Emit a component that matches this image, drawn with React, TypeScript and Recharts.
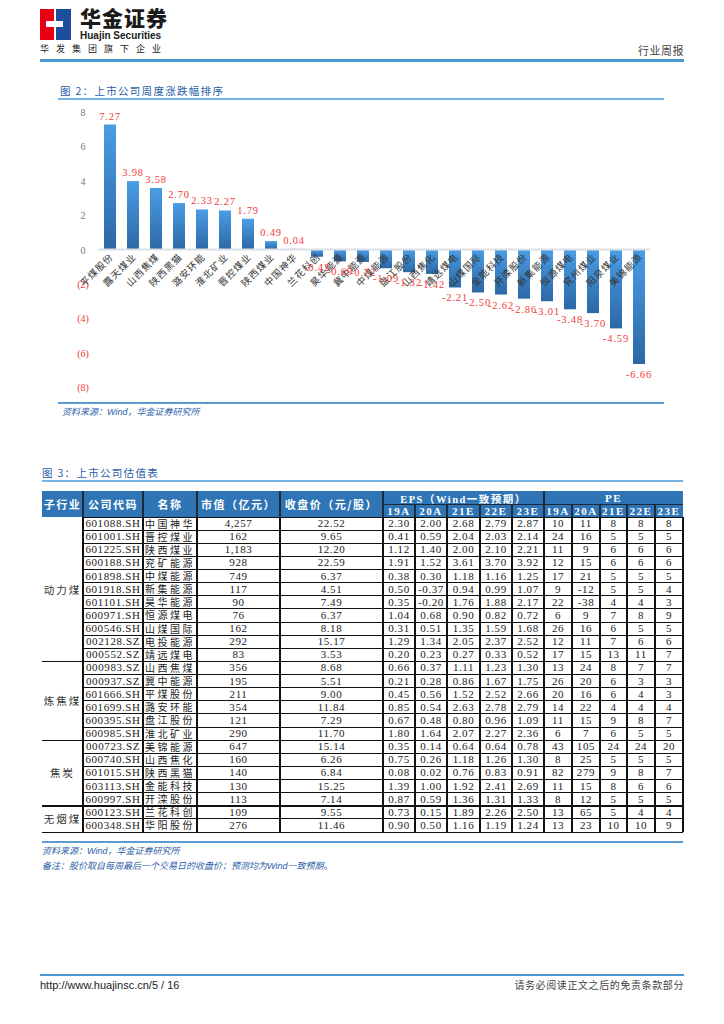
import React from 'react'
import { BarChart, Bar, XAxis, YAxis, ReferenceLine, LabelList } from 'recharts'

// 图2：上市公司周度涨跌幅排序 (%)
const barNames = [
  '平煤股份', '露天煤业', '山西焦煤', '陕西黑猫', '潞安环能', '淮北矿业', '晋控煤业', '陕西煤业',
  '中国神华', '兰花科创', '昊华能源', '冀中能源', '中煤能源', '盘江股份', '山西焦化', '靖远煤电',
  '山煤国际', '金能科技', '开滦股份', '新集能源', '恒源煤电', '兖州煤业', '阳泉煤业', '美锦能源',
]
const weeklyChange = [
  7.27, 3.98, 3.58, 2.7, 2.33, 2.27, 1.79, 0.49,
  0.04, -0.42, -0.69, -0.72, -1.09, -1.32, -1.42, -2.21,
  -2.5, -2.62, -2.86, -3.01, -3.48, -3.7, -4.59, -6.66,
]
const yTicks = [-8, -6, -4, -2, 0, 2, 4, 6, 8]

// 图3：上市公司估值表
const groups = ['动力煤', '炼焦煤', '焦炭', '无烟煤']
const groupSizes = [11, 6, 5, 2]
const codes = [
  '601088.SH', '601001.SH', '601225.SH', '600188.SH', '601898.SH', '601918.SH', '601101.SH', '600971.SH',
  '600546.SH', '002128.SZ', '000552.SZ', '000983.SZ', '000937.SZ', '601666.SH', '601699.SH', '600395.SH',
  '600985.SH', '000723.SZ', '600740.SH', '601015.SH', '603113.SH', '600997.SH', '600123.SH', '600348.SH',
]
const names = [
  '中国神华', '晋控煤业', '陕西煤业', '兖矿能源', '中煤能源', '新集能源', '昊华能源', '恒源煤电',
  '山煤国际', '电投能源', '靖远煤电', '山西焦煤', '冀中能源', '平煤股份', '潞安环能', '盘江股份',
  '淮北矿业', '美锦能源', '山西焦化', '陕西黑猫', '金能科技', '开滦股份', '兰花科创', '华阳股份',
]
const marketCap = [
  '4,257', '162', '1,183', '928', '749', '117', '90', '76', '162', '292', '83', '356',
  '195', '211', '354', '121', '290', '647', '160', '140', '130', '113', '109', '276',
]
const closePrice = [
  '22.52', '9.65', '12.20', '22.59', '6.37', '4.51', '7.49', '6.37', '8.18', '15.17', '3.53', '8.68',
  '5.51', '9.00', '11.84', '7.29', '11.70', '15.14', '6.26', '6.84', '15.25', '7.14', '9.55', '11.46',
]
const eps = [
  ['2.30', '2.00', '2.68', '2.79', '2.87'],
  ['0.41', '0.59', '2.04', '2.03', '2.14'],
  ['1.12', '1.40', '2.00', '2.10', '2.21'],
  ['1.91', '1.52', '3.61', '3.70', '3.92'],
  ['0.38', '0.30', '1.18', '1.16', '1.25'],
  ['0.50', '-0.37', '0.94', '0.99', '1.07'],
  ['0.35', '-0.20', '1.76', '1.88', '2.17'],
  ['1.04', '0.68', '0.90', '0.82', '0.72'],
  ['0.31', '0.51', '1.35', '1.59', '1.68'],
  ['1.29', '1.34', '2.05', '2.37', '2.52'],
  ['0.20', '0.23', '0.27', '0.33', '0.52'],
  ['0.66', '0.37', '1.11', '1.23', '1.30'],
  ['0.21', '0.28', '0.86', '1.67', '1.75'],
  ['0.45', '0.56', '1.52', '2.52', '2.66'],
  ['0.85', '0.54', '2.63', '2.78', '2.79'],
  ['0.67', '0.48', '0.80', '0.96', '1.09'],
  ['1.80', '1.64', '2.07', '2.27', '2.36'],
  ['0.35', '0.14', '0.64', '0.64', '0.78'],
  ['0.75', '0.26', '1.18', '1.26', '1.30'],
  ['0.08', '0.02', '0.76', '0.83', '0.91'],
  ['1.39', '1.00', '1.92', '2.41', '2.69'],
  ['0.87', '0.59', '1.36', '1.31', '1.33'],
  ['0.73', '0.15', '1.89', '2.26', '2.50'],
  ['0.90', '0.50', '1.16', '1.19', '1.24'],
]
const pe = [
  ['10', '11', '8', '8', '8'],
  ['24', '16', '5', '5', '5'],
  ['11', '9', '6', '6', '6'],
  ['12', '15', '6', '6', '6'],
  ['17', '21', '5', '5', '5'],
  ['9', '-12', '5', '5', '4'],
  ['22', '-38', '4', '4', '3'],
  ['6', '9', '7', '8', '9'],
  ['26', '16', '6', '5', '5'],
  ['12', '11', '7', '6', '6'],
  ['17', '15', '13', '11', '7'],
  ['13', '24', '8', '7', '7'],
  ['26', '20', '6', '3', '3'],
  ['20', '16', '6', '4', '3'],
  ['14', '22', '4', '4', '4'],
  ['11', '15', '9', '8', '7'],
  ['6', '7', '6', '5', '5'],
  ['43', '105', '24', '24', '20'],
  ['8', '25', '5', '5', '5'],
  ['82', '279', '9', '8', '7'],
  ['11', '15', '8', '6', '6'],
  ['8', '12', '5', '5', '5'],
  ['13', '65', '5', '4', '4'],
  ['13', '23', '10', '10', '9'],
]
const periods = ['19A', '20A', '21E', '22E', '23E']

const chartData = barNames.map((name, i) => ({ name, change: weeklyChange[i] }))

const CJK = '"Noto Sans CJK SC", sans-serif'
const SERIF = '"Liberation Serif", "Noto Sans CJK SC", serif'
const BLUE_LINE = '#4a98d2'
const RED = '#f23a3a'

const YTick = ({ x, y, payload }: any) => {
  const v = payload.value
  const neg = v < 0
  return (
    <text x={x - 7} y={y + 4} textAnchor="middle" fill={neg ? RED : '#777'} fontSize={10} fontFamily={SERIF}>
      {neg ? `(${-v})` : v}
    </text>
  )
}

const ValueLabel = (props: any) => {
  const { x, y, width, height, value } = props
  const top = Math.min(y, y + height)
  const bottom = Math.max(y, y + height)
  const ty = value >= 0 ? top - 5 : bottom + 14
  return (
    <text x={x + width / 2} y={ty} textAnchor="middle" fill={RED} fontSize={10.5} fontFamily={SERIF} letterSpacing={0.8}>
      {Number(value).toFixed(2)}
    </text>
  )
}

const NameLabel = (props: any) => {
  const { x, y, width, height, value, index } = props
  const v = weeklyChange[index] ?? 0
  const zero = v >= 0 ? Math.max(y, y + height) : Math.min(y, y + height)
  const cx = x + width / 2 + 4
  const cy = zero + 8
  return (
    <text
      transform={`translate(${cx},${cy}) rotate(-45)`}
      textAnchor="end"
      fill="#333"
      fontSize={9.5}
      fontFamily={CJK}
      letterSpacing={1}
    >
      {value}
    </text>
  )
}

const colEdges = [42, 83, 143, 197, 280, 383, 415, 447, 480, 512, 544, 572, 600, 627, 655, 683]
const HEAD_TOP = 491
const HEAD_MID = 505
const BODY_TOP = 517
const ROW_H = 13.125

function abs(left: number, top: number, width: number, height: number, extra: React.CSSProperties = {}): React.CSSProperties {
  return { position: 'absolute', left, top, width, height, ...extra }
}

function ValuationTable() {
  const nodes: React.ReactNode[] = []
  const bodyBottom = BODY_TOP + codes.length * ROW_H
  // header background
  nodes.push(<div key="hbg" style={abs(42, HEAD_TOP, 641, BODY_TOP - HEAD_TOP, { background: '#2f75b5' })} />)
  const headCell = (key: string, l: number, r: number, t: number, b: number, text: string, font = CJK, size = 11) =>
    nodes.push(
      <div
        key={key}
        style={abs(l, t, r - l, b - t, {
          display: 'flex', alignItems: 'center', justifyContent: 'center', color: '#fff', fontWeight: 700,
          fontSize: size, fontFamily: font, letterSpacing: 1.5, whiteSpace: 'nowrap',
        })}
      >
        {text}
      </div>,
    )
  const mainHeads = ['子行业', '公司代码', '名称', '市值（亿元）', '收盘价（元/股）']
  mainHeads.forEach((h, i) => headCell('mh' + i, colEdges[i], colEdges[i + 1], HEAD_TOP, BODY_TOP, h))
  headCell('eps', colEdges[5], colEdges[10], HEAD_TOP, HEAD_MID, 'EPS（Wind一致预期）', SERIF, 10.5)
  headCell('pe', colEdges[10], colEdges[15], HEAD_TOP, HEAD_MID, 'PE', SERIF, 11)
  for (let k = 0; k < 10; k++) {
    headCell('sub' + k, colEdges[5 + k], colEdges[6 + k], HEAD_MID, BODY_TOP, periods[k % 5], SERIF, 11)
  }
  // header dividers
  ;[1, 2, 3, 4, 5, 10].forEach((c) =>
    nodes.push(<div key={'hv' + c} style={abs(colEdges[c] - 1, HEAD_TOP, 2, BODY_TOP - HEAD_TOP, { background: '#1f2a38' })} />),
  )
  ;[6, 7, 8, 9, 11, 12, 13, 14].forEach((c) =>
    nodes.push(<div key={'hs' + c} style={abs(colEdges[c] - 1, HEAD_MID, 2, BODY_TOP - HEAD_MID, { background: '#1f2a38' })} />),
  )
  nodes.push(<div key="hmid" style={abs(383, HEAD_MID - 1, 300, 1, { background: '#1f2a38' })} />)

  // body vertical lines
  for (let c = 1; c < colEdges.length; c++) {
    nodes.push(<div key={'bv' + c} style={abs(colEdges[c] - 1, BODY_TOP, c === 1 ? 2 : 1.5, bodyBottom - BODY_TOP, { background: '#111' })} />)
  }
  // body horizontal lines
  nodes.push(<div key="btop" style={abs(83, BODY_TOP, 600, 1, { background: '#111' })} />)
  for (let r = 1; r <= codes.length; r++) {
    nodes.push(<div key={'bh' + r} style={abs(83, BODY_TOP + r * ROW_H - 0.5, 600, 1, { background: '#111' })} />)
  }
  let start = 0
  groups.forEach((g, gi) => {
    const end = start + groupSizes[gi]
    nodes.push(<div key={'gl' + gi} style={abs(42, BODY_TOP + end * ROW_H - 0.5, 641, 1.5, { background: '#111' })} />)
    nodes.push(
      <div
        key={'gt' + gi}
        style={abs(42, BODY_TOP + start * ROW_H, 41, groupSizes[gi] * ROW_H, {
          display: 'flex', alignItems: 'center', justifyContent: 'center', fontFamily: CJK, fontSize: 10.5, color: '#333', letterSpacing: 2,
        })}
      >
        {g}
      </div>,
    )
    start = end
  })

  // body cells
  codes.forEach((code, r) => {
    const row = [code, names[r], marketCap[r], closePrice[r], ...eps[r], ...pe[r]]
    row.forEach((txt, k) => {
      const c = k + 1
      nodes.push(
        <div
          key={`c${r}-${c}`}
          style={abs(colEdges[c], BODY_TOP + r * ROW_H, colEdges[c + 1] - colEdges[c], ROW_H, {
            display: 'flex', alignItems: 'center', justifyContent: 'center', whiteSpace: 'nowrap',
            fontFamily: k === 1 ? CJK : SERIF, fontSize: k === 1 ? 10 : 11, letterSpacing: k === 1 ? 2.5 : 0.6,
            color: '#222', lineHeight: 1,
          })}
        >
          {txt}
        </div>,
      )
    })
  })
  return <>{nodes}</>
}

export default function App() {
  return (
    <div style={{ position: 'absolute', left: 0, top: 0, width: 724, height: 1024, background: '#fff', overflow: 'hidden' }}>
      {/* page header */}
      <svg style={{ position: 'absolute', left: 40, top: 9 }} width={31} height={31}>
        <rect x={0} y={0} width={14} height={31} fill="#e60012" />
        <rect x={16} y={0} width={15} height={31} fill="#1d4e9b" />
        <rect x={6} y={12} width={17} height={6} fill="#fff" />
        <rect x={14} y={4} width={2} height={23} fill="#fff" />
      </svg>
      <div style={{ position: 'absolute', left: 80, top: 5, fontFamily: CJK, fontWeight: 900, fontSize: 21, color: '#1a1a1a', letterSpacing: 1, lineHeight: '24px' }}>
        华金证券
      </div>
      <div style={{ position: 'absolute', left: 80, top: 30, fontFamily: '"Liberation Sans", Arial', fontWeight: 700, fontSize: 10, color: '#1a1a1a', lineHeight: '12px' }}>
        Huajin Securities
      </div>
      <div style={{ position: 'absolute', left: 40, top: 43, fontFamily: CJK, fontSize: 9, color: '#222', letterSpacing: 7, lineHeight: '12px' }}>
        华发集团旗下企业
      </div>
      <div style={{ position: 'absolute', right: 40, top: 43, fontFamily: CJK, fontSize: 11, color: '#444', letterSpacing: 0.5, lineHeight: '14px' }}>
        行业周报
      </div>
      <div style={{ position: 'absolute', left: 40, top: 59, width: 644, height: 3, background: BLUE_LINE }} />

      {/* figure 2 */}
      <div style={{ position: 'absolute', left: 60, top: 84, fontFamily: CJK, fontSize: 10.5, color: '#2b5ea7', letterSpacing: 1.3, lineHeight: '13px' }}>
        图 2：上市公司周度涨跌幅排序
      </div>
      <div style={{ position: 'absolute', left: 58, top: 98, width: 606, height: 2, background: '#74b3e3' }} />
      <div style={{ position: 'absolute', left: 58, top: 100 }}>
        <BarChart width={607} height={300} data={chartData} margin={{ top: 12, right: 15, bottom: 13, left: 0 }}>
          <defs>
            <linearGradient id="barGrad" x1="0" y1="0" x2="0" y2="1">
              <stop offset="0%" stopColor="#4a9de4" />
              <stop offset="100%" stopColor="#2c68a6" />
            </linearGradient>
          </defs>
          <XAxis dataKey="name" hide />
          <YAxis
            width={40}
            domain={[-8, 8]}
            ticks={yTicks}
            axisLine={false}
            tickLine={false}
            tick={<YTick />}
            interval={0}
          />
          <ReferenceLine y={0} stroke="#dcdfe3" strokeWidth={2} />
          <Bar dataKey="change" barSize={12} fill="url(#barGrad)" isAnimationActive={false}>
            <LabelList dataKey="name" content={<NameLabel />} />
            <LabelList dataKey="change" content={<ValueLabel />} />
          </Bar>
        </BarChart>
      </div>
      <div style={{ position: 'absolute', left: 58, top: 402, width: 606, height: 2, background: '#5a9bd2' }} />
      <div style={{ position: 'absolute', left: 62, top: 406, fontFamily: CJK, fontStyle: 'italic', fontSize: 9, color: '#2b5ea7', lineHeight: '12px' }}>
        资料来源：<span style={{ fontFamily: '"Liberation Sans", Arial' }}>Wind</span>，华金证券研究所
      </div>

      {/* figure 3 */}
      <div style={{ position: 'absolute', left: 42, top: 466, fontFamily: CJK, fontSize: 10.5, color: '#2b5ea7', letterSpacing: 1.3, lineHeight: '13px' }}>
        图 3：上市公司估值表
      </div>
      <div style={{ position: 'absolute', left: 42, top: 480, width: 641, height: 2, background: '#74b3e3' }} />
      <ValuationTable />
      <div style={{ position: 'absolute', left: 42, top: 841, width: 641, height: 2, background: '#5a9bd2' }} />
      <div style={{ position: 'absolute', left: 42, top: 845, fontFamily: CJK, fontStyle: 'italic', fontSize: 9, color: '#2b5ea7', lineHeight: '12px' }}>
        资料来源：<span style={{ fontFamily: '"Liberation Sans", Arial' }}>Wind</span>，华金证券研究所
      </div>
      <div style={{ position: 'absolute', left: 42, top: 860, fontFamily: CJK, fontStyle: 'italic', fontSize: 9, color: '#2b5ea7', lineHeight: '12px' }}>
        备注：股价取自每周最后一个交易日的收盘价；预测均为<span style={{ fontFamily: '"Liberation Sans", Arial' }}>Wind</span>一致预期。
      </div>

      {/* page footer */}
      <div style={{ position: 'absolute', left: 40, top: 974, width: 644, height: 2, background: BLUE_LINE }} />
      <div style={{ position: 'absolute', left: 40, top: 978, fontFamily: '"Liberation Sans", Arial', fontSize: 11, color: '#222', lineHeight: '14px' }}>
        http://www.huajinsc.cn/5 / 16
      </div>
      <div style={{ position: 'absolute', right: 40, top: 978, fontFamily: CJK, fontSize: 10, color: '#444', letterSpacing: 0.6, lineHeight: '14px' }}>
        请务必阅读正文之后的免责条款部分
      </div>
    </div>
  )
}
